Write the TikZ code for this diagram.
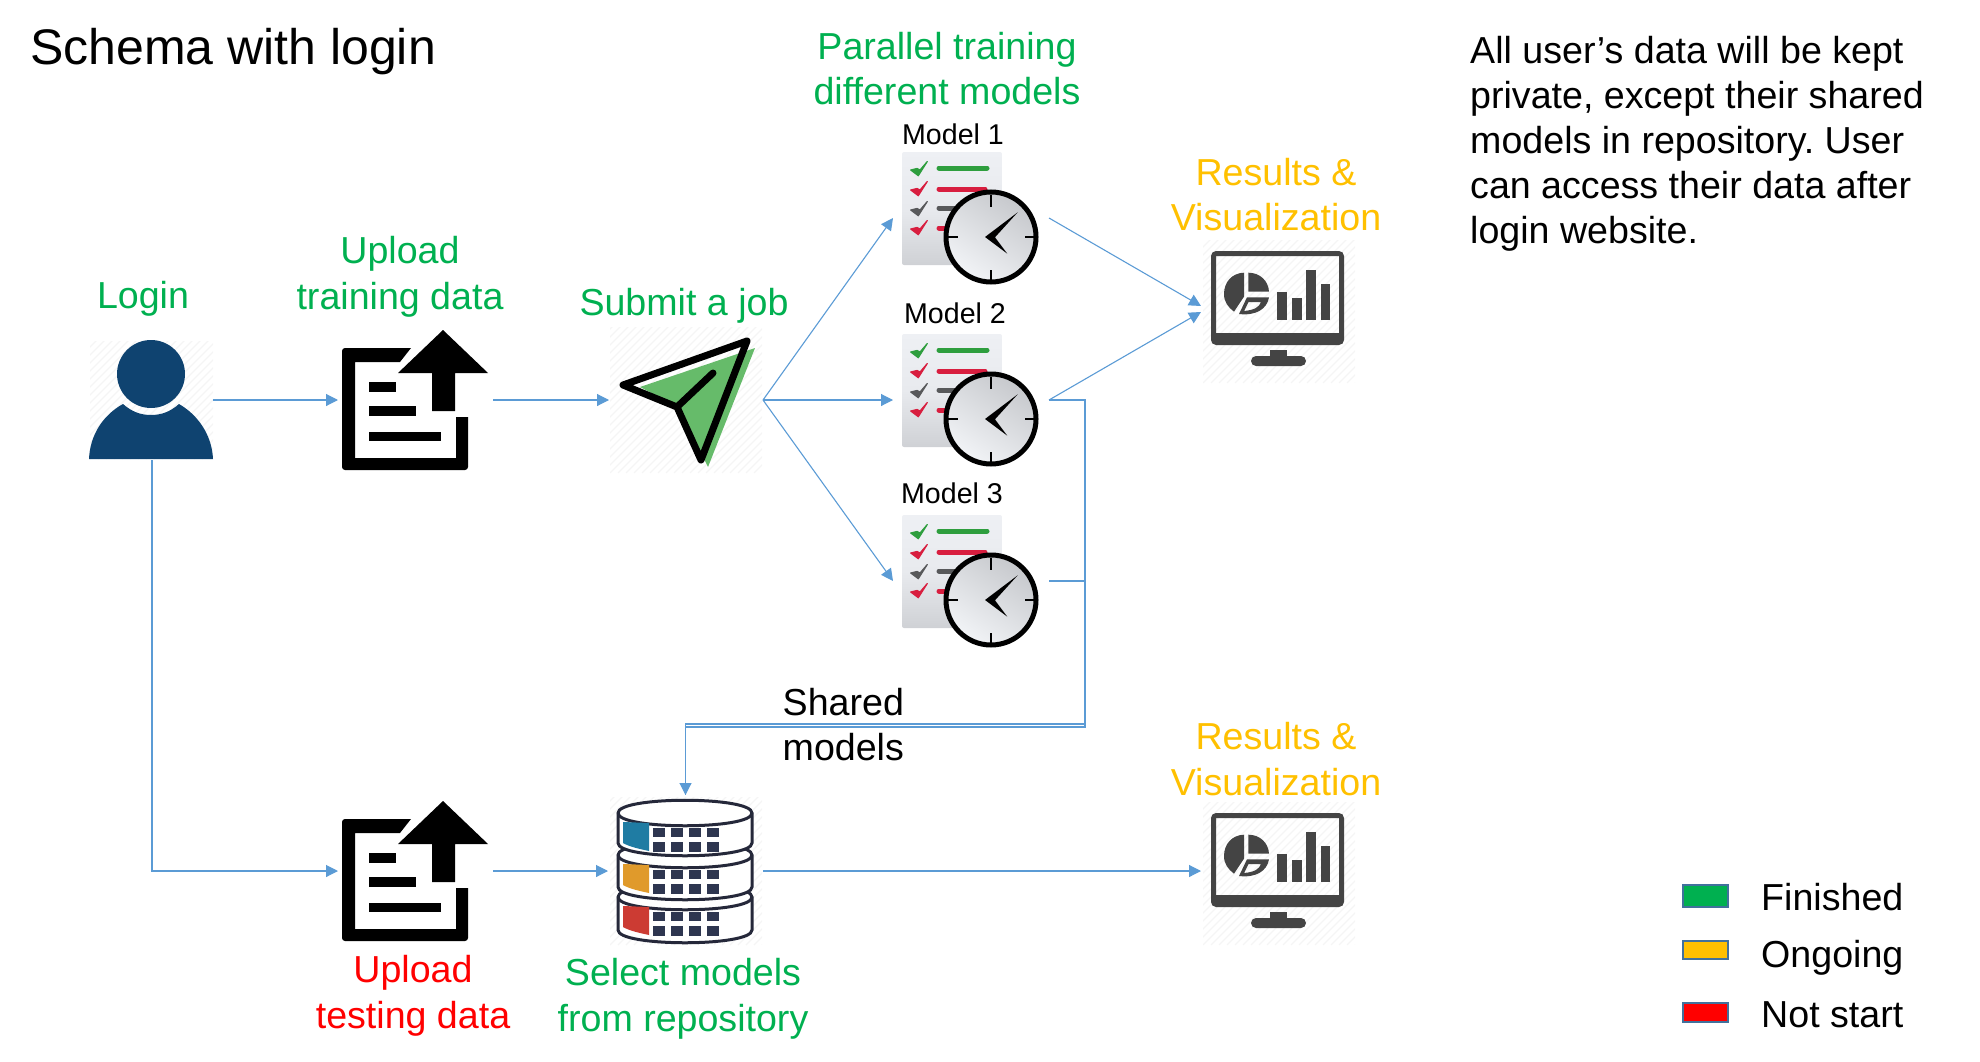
\documentclass[tikz,border=0pt]{standalone}
\usepackage{fontspec}
\setmainfont{Liberation Sans}
\frenchspacing
\usetikzlibrary{arrows.meta,calc}
\definecolor{lnk}{HTML}{5B9BD5}
\definecolor{okg}{HTML}{00B050}
\definecolor{ong}{HTML}{FFC000}
\definecolor{nos}{HTML}{FF0000}
\definecolor{usr}{HTML}{0F4370}
\definecolor{mon}{HTML}{444444}
\definecolor{dbl}{HTML}{25283A}
\definecolor{dbs}{HTML}{2E3650}
\definecolor{hat}{HTML}{F5F5F5}
\definecolor{leg}{HTML}{41719C}
\definecolor{sendg}{HTML}{66BB6A}
\definecolor{papT}{HTML}{EEF0F4}
\definecolor{papM}{HTML}{E8EAEE}
\definecolor{papB}{HTML}{CFD1D5}
\definecolor{clkA}{HTML}{C6C8CC}
\definecolor{clkB}{HTML}{F2F4F7}
\definecolor{dkA}{HTML}{1F7CA3}
\definecolor{dkB}{HTML}{E09A2B}
\definecolor{dkC}{HTML}{CC3B33}
\definecolor{chkG}{HTML}{2E9E3E}
\definecolor{chkR}{HTML}{D81E3F}
\definecolor{chkK}{HTML}{58595B}
\tikzset{
  x=1pt,y=-1pt,
  link/.style={draw=lnk,line width=1.1pt,-{Triangle[length=12pt,width=12pt]}},
  plainlink/.style={draw=lnk,line width=1.1pt},
  anchorbox/.style={inner sep=0pt,outer sep=0pt,minimum width=#1},
  lbl/.style={font=\fontsize{37.6}{45.5}\selectfont,align=center,inner sep=0pt},
  txt/.style={font=\fontsize{37.6}{45}\selectfont,align=left,inner sep=0pt},
  modellbl/.style={font=\fontsize{28.6}{32}\selectfont,inner sep=0pt},
  swatch/.style={draw=leg,line width=2pt},
}
\newcommand{\hatchbg}[4]{%
  \begin{scope}
    \clip (#1,#2) rectangle (#3,#4);
    \foreach \k in {0,8,...,320}{\draw[hat,line width=1.2pt] (#1+\k-160,#4) -- (#1+\k,#4-160);}
  \end{scope}}
\newcommand{\docicon}[1]{%
  \begin{scope}[shift={(0,#1)}]
    \fill (411,348) [rounded corners=3pt] -- (342,348) -- (342,470) -- (468,470) [sharp corners] -- (468,417) -- (456,417) -- (456,458) -- (355,458) -- (355,362) -- (400,362) -- cycle;
    \fill (369,382) rectangle (396,392);
    \fill (369,406) rectangle (416,416);
    \fill (369,432) rectangle (441,441);
    \fill (443,330) -- (488,373) -- (455,373) -- (455,411) -- (432,411) -- (432,373) -- (398,373) -- cycle;
  \end{scope}}
\newcommand{\chk}[2]{\filldraw[#2,line width=1.2pt,line join=round] (910.7,#1+1) -- (917,#1-0.5) -- (920,#1+1) -- (927.3,#1-7.5) -- (918.3,#1+6.7) -- cycle;}
\newcommand{\modelicon}[1]{%
  \begin{scope}[shift={(0,#1)}]
    \shade[rounded corners=2pt,top color=papT,bottom color=papB,middle color=papM] (902,152) rectangle (1002,265);
    \chk{169}{chkG}
    \chk{189}{chkR}
    \chk{209}{chkK}
    \chk{228}{chkR}
    \draw[chkG,line width=5pt,line cap=round] (939,168) -- (987,168);
    \draw[chkR,line width=5pt,line cap=round] (939,189) -- (985,189);
    \draw[chkK,line width=5pt,line cap=round] (939,208) -- (965,208);
    \draw[chkR,line width=5pt,line cap=round] (939,228) -- (965,228);
    \shade[left color=clkA,right color=clkB,shading angle=-35] (991,237) circle (45pt);
    \draw[line width=5pt] (991,237) circle (45pt);
    \draw[line width=2pt] (991,195) -- (991,207) (991,270) -- (991,282) (945,237) -- (958,237) (1025,237) -- (1037,237);
    \fill (985,237) -- (1017.7,212.3) -- (995,237.3) -- (1007.3,253.7) -- cycle;
  \end{scope}}
\newcommand{\monicon}[1]{%
  \begin{scope}[shift={(0,#1)}]
    \hatchbg{1203}{240}{1355}{383}
    \fill[mon,even odd rule,rounded corners=5pt] (1211,251) rectangle (1344,345) (1216,256) [sharp corners] rectangle (1339,333);
    \fill[mon] (1270,350) rectangle (1287,356);
    \fill[mon,rounded corners=5pt] (1251,366) -- (1251,356) -- (1306,356) -- (1306,366) -- cycle;
    \fill[mon] (1244,272.7) .. controls (1232,273) and (1224,282) .. (1224,294) .. controls (1224,302) and (1228,307) .. (1234,311.7) -- (1244,296.7) -- cycle;
    \fill[mon] (1248.3,272.7) .. controls (1260,272.7) and (1268.5,281) .. (1269,291.7) -- (1248.3,291.7) -- cycle;
    \fill[mon,even odd rule] (1247,297.3) -- (1269,297.3) .. controls (1267,309) and (1256,316) .. (1239,314) -- cycle
       (1248.5,302) -- (1261,302) .. controls (1259,307) and (1255,310) .. (1244,311) -- cycle;
    \fill[mon] (1277,292) rectangle (1287,320);
    \fill[mon] (1292,298) rectangle (1302,320);
    \fill[mon] (1306,270) rectangle (1316,320);
    \fill[mon] (1321,284) rectangle (1330,320);
  \end{scope}}
\newcommand{\disk}[3]{%
  \draw[dbl,line width=3pt,fill=white] (618,#1) -- (618,#2) .. controls (618,#2+17) and (752,#2+17) .. (752,#2) -- (752,#1) .. controls (752,#1-17) and (618,#1-17) .. (618,#1) -- cycle;
  \draw[dbl,line width=3pt] (618,#1) .. controls (618,#1+17) and (752,#1+17) .. (752,#1);
  \foreach \cx in {659,677,695,713}{%
    \fill[dbs] (\cx-6,#1+15) rectangle (\cx+6,#1+24);
    \fill[dbs] (\cx-6,#1+29) rectangle (\cx+6,#1+39);}
  \fill[#3] (623,#1+9) -- (649,#1+10) -- (649,#1+38) .. controls (640,#1+36) and (630,#1+34) .. (623,#1+30) -- cycle;}
\begin{document}
\begin{tikzpicture}
\useasboundingbox (0,0) rectangle (1980,1062);
% login icon
\hatchbg{90}{341}{213}{459}
\fill[usr] (151,374) circle (34pt);
\fill[usr] (89,459) .. controls (90,435) and (103,415) .. (123,404) .. controls (132,412) and (141,415) .. (151,415) .. controls (161,415) and (170,412) .. (179,404) .. controls (198,415) and (212,435) .. (213,459) -- cycle;
% upload icons
\docicon{0}
\docicon{471}
% send icon
\hatchbg{610}{327}{762}{473}
\fill[sendg] (640,387) -- (755,348) -- (708,467) -- (678,407) -- cycle;
\draw[line width=7pt,line join=round,line cap=round] (623,385) -- (747,341) -- (701,460) -- (677,407) -- cycle (677,407) -- (713,373);
% model icons
\modelicon{0}
\modelicon{182}
\modelicon{363}
% monitors
\monicon{0}
\monicon{562}
% repository
\hatchbg{610}{797}{762}{945}
\disk{897}{930}{dkC}
\disk{855}{887}{dkB}
\disk{813}{843}{dkA}
% connector anchors
\node[anchorbox=122pt,minimum height=120pt] (login) at (152,400) {};
\node[anchorbox=155pt,minimum height=145pt] (uptrain) at (415.5,400) {};
\node[anchorbox=155pt,minimum height=145pt] (uptest) at (415.5,871) {};
\node[anchorbox=154pt,minimum height=146pt] (job) at (686,400) {};
\node[anchorbox=156pt,minimum height=120pt] (mA) at (971,218) {};
\node[anchorbox=156pt,minimum height=120pt] (mB) at (971,400) {};
\node[anchorbox=156pt,minimum height=120pt] (mC) at (971,581) {};
\node[anchorbox=155pt,minimum height=152pt] (repo) at (685.5,871) {};
\node[anchorbox=150pt,minimum height=140pt] (resB) at (1276,871) {};
\coordinate (resTopA) at (1201,306);
\coordinate (resTopB) at (1201,312);
\coordinate (busA) at (1085,724);
\coordinate (busB) at (1085,727);
% connectors
\draw[link] (login.east) -- (uptrain.west);
\draw[link] (uptrain.east) -- (job.west);
\draw[link] (job.east) -- (mA.west);
\draw[link] (job.east) -- (mB.west);
\draw[link] (job.east) -- (mC.west);
\draw[link] (mA.east) -- (resTopA);
\draw[link] (mB.east) -- (resTopB);
\draw[plainlink] (mB.east) -| (busA) -| (repo.north);
\draw[link] (mC.east) -| (busB) -| (repo.north);
\draw[link] (login.south) |- (uptest.west);
\draw[link] (uptest.east) -- (repo.west);
\draw[link] (repo.east) -- (resB.west);
% texts
\node[txt,anchor=west] (title) at (30,52) {\fontsize{50}{55}\selectfont Schema with login};
\node[lbl,text=okg] (tlogin) at (143,299) {Login};
\node[lbl,text=okg] (ttrain) at (400,277) {Upload\\training data};
\node[lbl,text=okg] (tjob) at (684,306) {Submit a job};
\node[lbl,text=okg] (tpar) at (947,68.5) {Parallel training\\different models};
\node[modellbl] (tmA) at (953,134) {Model 1};
\node[modellbl] (tmB) at (955,313) {Model 2};
\node[modellbl] (tmC) at (952,493) {Model 3};
\node[lbl,text=ong] (tresA) at (1276,194.5) {Results \&\\Visualization};
\node[lbl,text=ong] (tresB) at (1276,759) {Results \&\\Visualization};
\node[txt,anchor=west] (tpriv) at (1470,143.5) {All user’s data will be kept\\private, except their shared\\models in repository. User\\can access their data after\\login website.};
\node[txt,anchor=west] (tshare) at (782.5,724.5) {Shared\\models};
\node[lbl,text=nos] (ttest) at (413,996) {Upload\\testing data};
\node[lbl,text=okg] (tsel) at (683,999) {Select models\\from repository};
% legend
\draw[swatch,fill=okg] (1682.5,885) rectangle (1727.5,907);
\draw[swatch,fill=ong] (1682.5,941) rectangle (1727.5,959);
\draw[swatch,fill=nos] (1682.5,1003) rectangle (1727.5,1022);
\node[txt,anchor=base west] (lfin) at (1761,910) {Finished};
\node[txt,anchor=base west] (long) at (1761,967) {Ongoing};
\node[txt,anchor=base west] (lnot) at (1761,1027) {Not start};
\end{tikzpicture}
\end{document}
